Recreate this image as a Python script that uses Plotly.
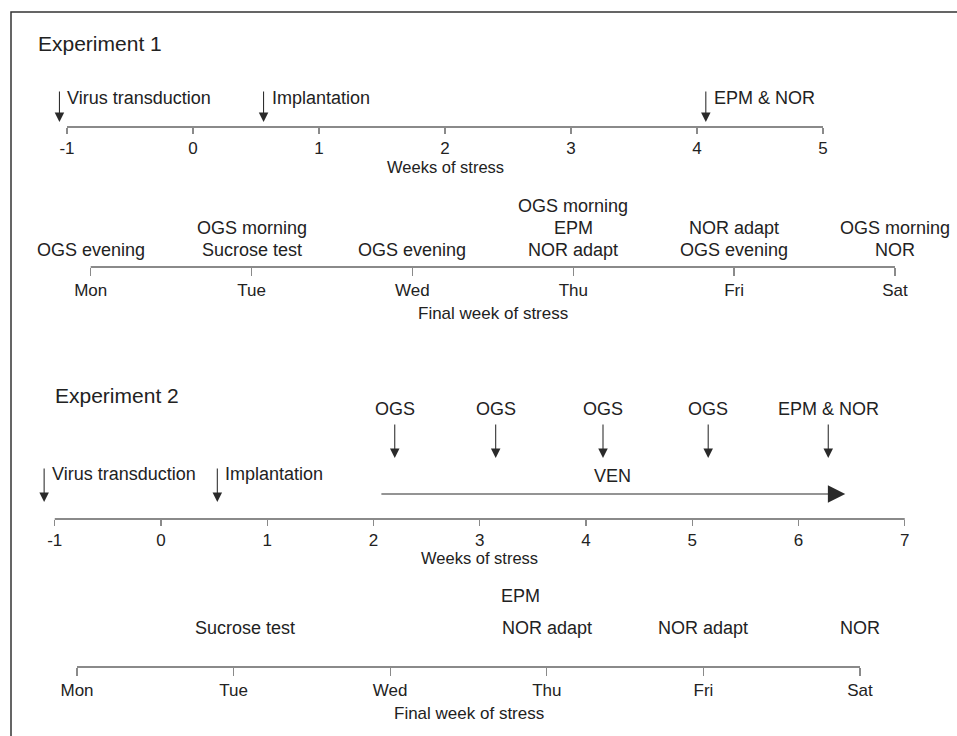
import plotly.graph_objects as go

W, H = 957, 736
FONT = "Liberation Sans, Arial, sans-serif"
TXT = "#222222"
AXC = "#8a8a8a"

# ---------------- data ----------------
week_ticks_exp1 = [-1, 0, 1, 2, 3, 4, 5]
week_ticks_exp2 = [-1, 0, 1, 2, 3, 4, 5, 6, 7]
days = ["Mon", "Tue", "Wed", "Thu", "Fri", "Sat"]

exp1_events = ["Virus transduction", "Implantation", "EPM & NOR"]
exp1_event_weeks = [-1.06, 0.56, 4.07]

# per day, listed top to bottom
exp1_day_labels = [
    ["OGS evening"],
    ["OGS morning", "Sucrose test"],
    ["OGS evening"],
    ["OGS morning", "EPM", "NOR adapt"],
    ["NOR adapt", "OGS evening"],
    ["OGS morning", "NOR"],
]

exp2_pre_events = ["Virus transduction", "Implantation"]
exp2_pre_weeks = [-1.10, 0.53]
exp2_test_events = ["OGS", "OGS", "OGS", "OGS", "EPM & NOR"]
exp2_test_weeks = [2.20, 3.15, 4.16, 5.15, 6.28]
ven_label = "VEN"
ven_weeks = [2.06, 6.44]

exp2_day_events = ["Sucrose test", "EPM", "NOR adapt", "NOR adapt", "NOR"]
exp2_day_pos = [1.07, 2.83, 3.0, 4.0, 5.0]
exp2_day_rows = [0, 1, 0, 0, 0]

# ---------------- layout helpers ----------------
def xaxis(origin_px, unit_px, tickvals, ticktext, line_y, ticklen, overlay=True):
    d = dict(
        domain=[0, 1],
        range=[-origin_px / unit_px, (W - origin_px) / unit_px],
        anchor="free",
        position=1 - line_y / H,
        tickmode="array",
        tickvals=tickvals,
        ticktext=ticktext,
        ticks="outside",
        ticklen=ticklen,
        tickwidth=1.3,
        tickcolor=AXC,
        showline=False,
        showgrid=False,
        zeroline=False,
        tickfont=dict(size=17, color=TXT, family=FONT),
        fixedrange=True,
    )
    if overlay:
        d["overlaying"] = "x"
    return d

# vertical positions (px from top)
E1_AX, E1_DAY_AX = 127, 267
E2_AX, E2_DAY_AX = 519, 667

fig = go.Figure()

axes = [
    ("x", week_ticks_exp1, E1_AX),
    ("x2", list(range(len(days))), E1_DAY_AX),
    ("x3", week_ticks_exp2, E2_AX),
    ("x4", list(range(len(days))), E2_DAY_AX),
]
for xr, ticks, ly in axes:
    fig.add_trace(go.Scatter(
        x=[min(ticks), max(ticks)], y=[ly, ly], xaxis=xr, yaxis="y",
        mode="lines", line=dict(color=AXC, width=1.8),
        hoverinfo="skip", showlegend=False))

ann = []

def label(text, x, y, xref, xanchor="center", size=18, xshift=0):
    ann.append(dict(text=text, x=x, y=y, xref=xref, yref="y", showarrow=False,
                    xanchor=xanchor, yanchor="middle", xshift=xshift,
                    font=dict(size=size, color=TXT, family=FONT)))

def down_arrow(x, y_top, y_tip, xref):
    ann.append(dict(text="", x=x, y=y_tip, xref=xref, yref="y",
                    ax=x, ay=y_top, axref=xref, ayref="y",
                    showarrow=True, arrowhead=2, arrowsize=1.8, arrowwidth=1.05,
                    arrowcolor="#2a2a2a", standoff=0))

# ---- Experiment 1 ----
label("Experiment 1", 36 / W, 43, "paper", xanchor="left", size=21)
for name, wk in zip(exp1_events, exp1_event_weeks):
    down_arrow(wk, 90, 122, "x")
    label(name, wk, 98, "x", xanchor="left", xshift=6)
label("Weeks of stress", (min(week_ticks_exp1) + max(week_ticks_exp1)) / 2, 167, "x", size=16.5)

for i, labs in enumerate(exp1_day_labels):
    n = len(labs)
    for j, t in enumerate(labs):
        row = n - 1 - j
        label(t, i, 250 - 22 * row, "x2")
label("Final week of stress", (len(days) - 1) / 2, 313, "x2", size=17)

# ---- Experiment 2 ----
label("Experiment 2", 53 / W, 395, "paper", xanchor="left", size=21)
for name, wk in zip(exp2_pre_events, exp2_pre_weeks):
    down_arrow(wk, 467, 502, "x3")
    label(name, wk, 474, "x3", xanchor="left", xshift=6)
for name, wk in zip(exp2_test_events, exp2_test_weeks):
    down_arrow(wk, 423, 458, "x3")
    label(name, wk, 409, "x3")
ann.append(dict(text="", x=ven_weeks[1], y=494, xref="x3", yref="y",
                ax=ven_weeks[0], ay=494, axref="x3", ayref="y",
                showarrow=True, arrowhead=2, arrowsize=2.9, arrowwidth=1.2,
                arrowcolor="#2a2a2a", standoff=0))
label(ven_label, sum(ven_weeks) / 2, 476, "x3")
label("Weeks of stress", (min(week_ticks_exp2) + max(week_ticks_exp2)) / 2, 558, "x3", size=16.5)

for t, p, r in zip(exp2_day_events, exp2_day_pos, exp2_day_rows):
    label(t, p, 628 - 32 * r, "x4")
label("Final week of stress", (len(days) - 1) / 2, 713, "x4", size=17)

fig.update_layout(
    width=W, height=H,
    margin=dict(l=0, r=0, t=0, b=0),
    paper_bgcolor="white", plot_bgcolor="white",
    font=dict(family=FONT, color=TXT),
    showlegend=False,
    xaxis=xaxis(193, 126, week_ticks_exp1, [str(v) for v in week_ticks_exp1], E1_AX, 6, overlay=False),
    xaxis2=xaxis(90.7, 160.86, list(range(len(days))), days, E1_DAY_AX, 8),
    xaxis3=xaxis(161, 106.25, week_ticks_exp2, [str(v) for v in week_ticks_exp2], E2_AX, 6),
    xaxis4=xaxis(77, 156.6, list(range(len(days))), days, E2_DAY_AX, 8),
    yaxis=dict(domain=[0, 1], range=[H, 0], visible=False, fixedrange=True),
    annotations=ann,
    shapes=[dict(type="rect", xref="paper", yref="paper",
                 x0=11 / W, x1=1.05, y0=-0.05, y1=1 - 12 / H,
                 line=dict(color="#333333", width=1.5))],
)

fig.write_html("out.html", config={"displayModeBar": False, "staticPlot": True},
               post_script="document.body.style.margin='0';document.body.style.overflow='hidden';")
